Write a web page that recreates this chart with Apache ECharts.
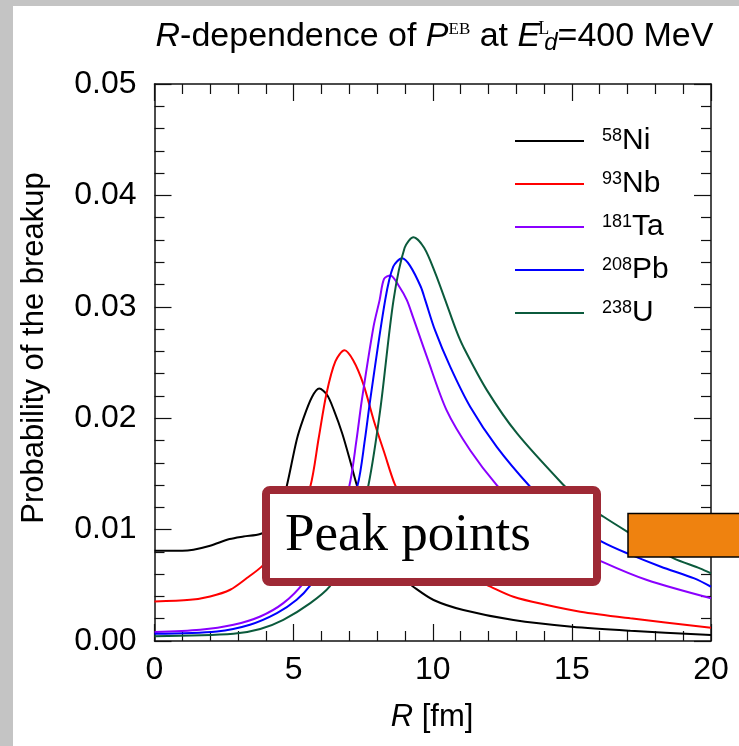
<!DOCTYPE html>
<html><head><meta charset="utf-8">
<script src="https://cdn.jsdelivr.net/npm/echarts@6/dist/echarts.min.js"></script>
<style>html,body{margin:0;padding:0;background:#fff}#c{width:739px;height:746px}</style>
</head><body><div id="c"></div>
<script>
// ---- data ----
const massNumbers = ['58', '93', '181', '208', '238'];
const elements = ['Ni', 'Nb', 'Ta', 'Pb', 'U'];
const lineColors = ['#000000', '#ff0000', '#8a00ff', '#0000ff', '#0b5a3c'];

const rNi = [0, 1.0, 1.4, 2.0, 2.7, 3.2, 3.8, 4.2, 4.5, 4.75, 5.11, 5.34, 5.66, 5.92, 6.2, 6.45, 6.75, 7.05, 7.27, 7.6, 8.0, 8.5, 9.0, 9.3, 10.03, 11.1, 12.9, 15.0, 17.1, 20];
const pNi = [0.0081, 0.0081, 0.0082, 0.00855, 0.00915, 0.00938, 0.0096, 0.0102, 0.0118, 0.01387, 0.01805, 0.0199, 0.0219, 0.02266, 0.0221, 0.0207, 0.0186, 0.016, 0.014, 0.0115, 0.009, 0.0068, 0.0055, 0.00487, 0.00368, 0.00278, 0.00188, 0.00128, 0.00092, 0.00054];

const rNb = [0, 1.28, 2.0, 2.72, 3.32, 3.86, 4.3, 4.8, 5.2, 5.6, 5.9, 6.18, 6.5, 6.83, 7.14, 7.5, 7.88, 8.26, 8.63, 9.0, 9.5, 10.0, 10.5, 11.0, 11.5, 11.95, 12.9, 14.1, 15.3, 17.1, 20];
const pNb = [0.00355, 0.0037, 0.004, 0.0046, 0.00565, 0.0067, 0.008, 0.0098, 0.0117, 0.01387, 0.0182, 0.0222, 0.0251, 0.0261, 0.0252, 0.0231, 0.0198, 0.0169, 0.0141, 0.0123, 0.0102, 0.0085, 0.0071, 0.0061, 0.0055, 0.00502, 0.00397, 0.00323, 0.00263, 0.00204, 0.0012];

const rTa = [0, 1.64, 2.84, 3.8, 4.63, 5.35, 5.8, 6.3, 6.7, 7.0, 7.26, 7.45, 7.87, 8.09, 8.25, 8.48, 8.8, 9.07, 9.3, 9.79, 10.5, 11.35, 12.3, 13.0, 14.0, 15.0, 16.1, 17.7, 20];
const pTa = [0.00081, 0.00101, 0.00146, 0.0022, 0.0034, 0.0052, 0.0072, 0.0098, 0.0122, 0.0139, 0.01805, 0.0216, 0.0282, 0.0306, 0.0325, 0.03282, 0.0318, 0.0306, 0.029, 0.0255, 0.0207, 0.0171, 0.014, 0.0123, 0.0102, 0.0085, 0.0071, 0.00547, 0.00383];

const rPb = [0, 2.24, 3.43, 4.4, 5.11, 5.6, 6.2, 6.8, 7.3, 7.56, 7.75, 8.29, 8.58, 8.9, 9.18, 9.57, 9.73, 10.08, 10.63, 11.35, 12.3, 13.5, 14.2, 15.0, 16.09, 17.0, 18.2, 19.4, 20];
const pPb = [0.00065, 0.00086, 0.00146, 0.0025, 0.0037, 0.005, 0.0073, 0.0107, 0.014, 0.01805, 0.0216, 0.0306, 0.0336, 0.03436, 0.0337, 0.0318, 0.0306, 0.0279, 0.0246, 0.021, 0.01743, 0.01385, 0.0122, 0.0106, 0.0089, 0.00786, 0.00667, 0.00562, 0.00487];

const rU = [0, 2.84, 3.8, 4.63, 5.6, 6.3, 6.8, 7.3, 7.69, 8.11, 8.59, 8.99, 9.31, 9.69, 10.08, 10.45, 10.84, 11.1, 11.95, 13.03, 14.7, 15.3, 16.14, 17.0, 17.8, 18.66, 19.6, 20];
const pU = [0.00042, 0.00065, 0.00108, 0.0019, 0.0034, 0.0049, 0.0071, 0.0105, 0.014, 0.0207, 0.0306, 0.0353, 0.03625, 0.0353, 0.0331, 0.0306, 0.0279, 0.0264, 0.0225, 0.01863, 0.014, 0.0126, 0.01115, 0.0098, 0.0086, 0.00742, 0.00652, 0.00607];

const xMin = 0, xMax = 20, xStep = 5;
const yMin = 0, yMax = 0.05, yStep = 0.01;

// ---- chart ----
const FONT = '"Liberation Sans", Arial, Helvetica, sans-serif';
const SERIF = '"Liberation Serif", "Times New Roman", serif';
const seriesR = [rNi, rNb, rTa, rPb, rU];
const seriesP = [pNi, pNb, pTa, pPb, pU];
const names = massNumbers.map((m, i) => m + elements[i]);

const axisCommon = {
  axisLine: { show: true, onZero: false, lineStyle: { color: '#111', width: 1.5 } },
  axisTick: { show: true, inside: true, length: 17, lineStyle: { color: '#111', width: 1.2 } },
  minorTick: { show: true, splitNumber: 5, length: 10, lineStyle: { color: '#111', width: 1.2 } },
  splitLine: { show: false },
  minorSplitLine: { show: false }
};

const chart = echarts.init(document.getElementById('c'));
chart.setOption({
  animation: false,
  backgroundColor: '#ffffff',
  grid: { left: 154.5, top: 84, width: 556.5, height: 557, containLabel: false },
  xAxis: [
    Object.assign({ type: 'value', min: xMin, max: xMax, interval: xStep, position: 'bottom',
      axisLabel: { fontSize: 32, color: '#000', fontFamily: FONT, margin: 13 } }, axisCommon),
    Object.assign({ type: 'value', min: xMin, max: xMax, interval: xStep, position: 'top',
      axisLabel: { show: false } }, axisCommon)
  ],
  yAxis: [
    Object.assign({ type: 'value', min: yMin, max: yMax, interval: yStep, position: 'left',
      axisLabel: { fontSize: 32, color: '#000', fontFamily: FONT, margin: 18, formatter: v => v.toFixed(2) } }, axisCommon),
    Object.assign({ type: 'value', min: yMin, max: yMax, interval: yStep, position: 'right',
      axisLabel: { show: false } }, axisCommon)
  ],
  legend: {
    orient: 'vertical', left: 515, top: 126, padding: 0, itemWidth: 69, itemHeight: 2, itemGap: 13,
    icon: 'rect', data: names, selectedMode: false,
    formatter: name => { const i = names.indexOf(name); return '{sup|' + massNumbers[i] + '}{el|' + elements[i] + '}'; },
    textStyle: {
      color: '#000', fontFamily: FONT, fontSize: 30, lineHeight: 30, padding: [0, 0, 0, 13],
      rich: {
        sup: { fontSize: 18, fontFamily: FONT, color: '#000', padding: [0, 0, 10, 0] },
        el: { fontSize: 30, fontFamily: FONT, color: '#000' }
      }
    }
  },
  series: names.map((n, i) => ({
    type: 'line', name: n,
    data: seriesR[i].map((r, j) => [r, seriesP[i][j]]),
    showSymbol: false, symbol: 'none', smooth: 0.3, clip: true,
    lineStyle: { color: lineColors[i], width: 2 },
    itemStyle: { color: lineColors[i] }
  })),
  graphic: [
    { type: 'rect', z: 200, shape: { x: 0, y: 0, width: 13, height: 746 }, style: { fill: '#c4c4c4' } },
    { type: 'rect', z: 200, shape: { x: 0, y: 0, width: 739, height: 6 }, style: { fill: '#c4c4c4' } },
    { type: 'text', z: 200, x: 434.5, y: 37,
      style: {
        text: '{i|R}{n|-dependence of }{i|P}{eb|EB}{n| at }{i|E}{L|L}{d|d}{n|=400 MeV}',
        align: 'center', verticalAlign: 'middle', fill: '#000', fontSize: 34, fontFamily: FONT,
        rich: {
          n: { fontSize: 34, fontFamily: FONT, fill: '#000' },
          i: { fontSize: 34, fontFamily: FONT, fontStyle: 'italic', fill: '#000' },
          eb: { fontSize: 17, fontFamily: SERIF, fill: '#000', padding: [0, 0, 14, 0] },
          L: { fontSize: 18, fontFamily: SERIF, fill: '#000', padding: [0, 0, 16, 3], width: 1 },
          d: { fontSize: 24, fontFamily: FONT, fontStyle: 'italic', fill: '#000', padding: [12, 0, 0, 0] }
        }
      } },
    { type: 'text', z: 200, x: 34, y: 348, rotation: Math.PI / 2,
      style: { text: 'Probability of the breakup', align: 'center', verticalAlign: 'middle',
        fill: '#000', fontSize: 31, fontFamily: FONT } },
    { type: 'text', z: 200, x: 432, y: 717,
      style: { text: '{i|R} [fm]', align: 'center', verticalAlign: 'middle', fill: '#000', fontSize: 31, fontFamily: FONT,
        rich: { i: { fontSize: 31, fontFamily: FONT, fontStyle: 'italic', fill: '#000' } } } },
    { type: 'rect', z: 210, shape: { x: 266, y: 490, width: 331, height: 92, r: 4 },
      style: { fill: '#ffffff', stroke: '#9e2935', lineWidth: 8 } },
    { type: 'text', z: 211, x: 285, y: 536,
      style: { text: 'Peak points', align: 'left', verticalAlign: 'middle', fill: '#000', fontSize: 53, fontFamily: SERIF } },
    { type: 'rect', z: 210, shape: { x: 628, y: 513.5, width: 120, height: 43.5 },
      style: { fill: '#ef820f', stroke: '#000', lineWidth: 1.5 } }
  ]
});
</script>
</body></html>
